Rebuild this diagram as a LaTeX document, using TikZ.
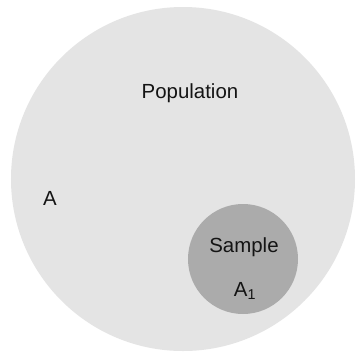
\documentclass[tikz,border=0pt]{standalone}
\usepackage{fontspec}
\setmainfont{Liberation Sans}
\usepackage{xcolor}
\usetikzlibrary{positioning}
\definecolor{popgray}{HTML}{E4E4E4}
\definecolor{smpgray}{HTML}{ABABAB}
\definecolor{txtdark}{HTML}{141414}
\tikzset{
  popdisc/.style={circle,fill=popgray,inner sep=0pt,minimum size=344bp},
  smpdisc/.style={circle,fill=smpgray,inner sep=0pt,minimum size=110bp},
  lbl/.style={text=txtdark,inner sep=0pt,font=\fontsize{20.5}{24}\selectfont},
}
\begin{document}
\begin{tikzpicture}[x=1bp,y=-1bp]
  \fill[white] (0,0) rectangle (357,355);
  \useasboundingbox (0,0) rectangle (357,355);
  \node[popdisc] (pop) at (183,179) {};
  \node[smpdisc] (smp) at (243,259) {};
  \node[lbl] (poplbl) at (190,93) {Population};
  \node[lbl] (albl) at (50,198) {A};
  \node[lbl] (smplbl) at (244,247) {Sample};
  \node[lbl] (a1lbl) at (245,291) {A\textsubscript{1}};
\end{tikzpicture}
\end{document}
